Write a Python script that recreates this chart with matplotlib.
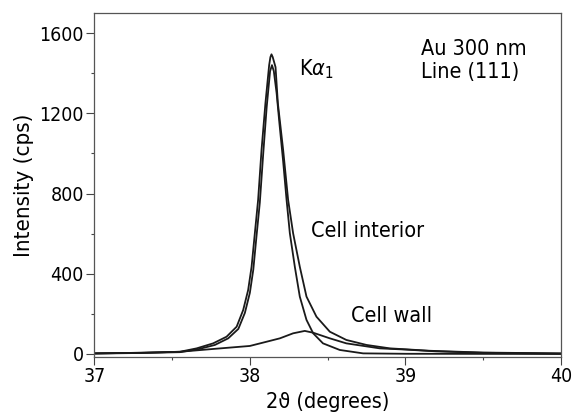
import matplotlib

matplotlib.use('agg')

import matplotlib.pyplot as plt
from matplotlib.ticker import MultipleLocator

plt.rcParams['font.family'] = ['DejaVu Sans']
plt.rcParams['font.stretch'] = 'condensed'
plt.rcParams['mathtext.fontset'] = 'dejavusans'

# curves: 2theta (deg) and intensity (cps)
interior_x = [37.0, 37.3, 37.55, 37.658, 37.764, 37.85, 37.915, 37.957, 37.989,
              38.011, 38.032, 38.053, 38.075, 38.10, 38.124, 38.132, 38.139,
              38.147, 38.165, 38.18, 38.214, 38.246, 38.278, 38.321, 38.364,
              38.428, 38.514, 38.62, 38.75, 38.9, 39.156, 39.5, 40.0]
interior_y = [3, 6, 11, 28, 53, 86, 136, 219, 319,
              435, 602, 768, 1017, 1250, 1440, 1480, 1494,
              1480, 1430, 1250, 1017, 768, 602, 435, 286,
              186, 111, 70, 45, 28, 16, 7, 3]

ka1_x = [37.0, 37.3, 37.55, 37.669, 37.775, 37.861, 37.926, 37.968, 38.0,
         38.022, 38.043, 38.064, 38.086, 38.108, 38.13, 38.142, 38.154,
         38.172, 38.19, 38.214, 38.236, 38.257, 38.289, 38.321, 38.364,
         38.407, 38.47, 38.578, 38.728, 39.0, 40.0]
ka1_y = [2, 5, 9, 24, 45, 78, 125, 205, 305,
         420, 590, 755, 1000, 1230, 1410, 1440, 1410,
         1300, 1150, 960, 768, 602, 435, 286, 170,
         103, 53, 20, 3, 1, 0]

wall_x = [37.0, 37.3, 37.55, 37.764, 38.0, 38.107, 38.193, 38.278, 38.353,
          38.407, 38.514, 38.62, 38.835, 39.0, 39.2, 39.5, 40.0]
wall_y = [3, 6, 11, 25, 40, 61, 78, 103, 115,
          106, 78, 53, 28, 22, 13, 6, 2]

fig = plt.figure(figsize=(5.73, 4.19), dpi=100)
ax = fig.add_axes([0.1646, 0.148, 0.8144, 0.821])

for xs, ys in [(interior_x, interior_y), (ka1_x, ka1_y), (wall_x, wall_y)]:
    ax.plot(xs, ys, color='#1a1a1a', linewidth=1.3)

ax.set_xlim(37, 40)
ax.set_ylim(-15, 1700)
ax.xaxis.set_major_locator(MultipleLocator(1))
ax.xaxis.set_minor_locator(MultipleLocator(0.5))
ax.yaxis.set_major_locator(MultipleLocator(400))
ax.yaxis.set_minor_locator(MultipleLocator(200))
ax.tick_params(which='major', direction='out', length=5.5, width=0.8,
               color='#444444', labelsize=14, pad=2)
ax.tick_params(which='minor', direction='out', length=2.2, width=0.8,
               color='#444444')
for s in ax.spines.values():
    s.set_color('#555555')
    s.set_linewidth(0.9)

ax.set_xlabel('2ϑ (degrees)', fontsize=15.5, labelpad=4)
ax.set_ylabel('Intensity (cps)', fontsize=16, labelpad=4)

ax.text(38.315, 1391, r'K$\alpha_1$', fontsize=15.5)
ax.text(38.39, 583, 'Cell interior', fontsize=15.5)
ax.text(38.647, 161, 'Cell wall', fontsize=15.5)
ax.text(39.103, 1490, 'Au 300 nm', fontsize=15.5)
ax.text(39.103, 1376, 'Line (111)', fontsize=15.5)

fig.savefig('out.png')
